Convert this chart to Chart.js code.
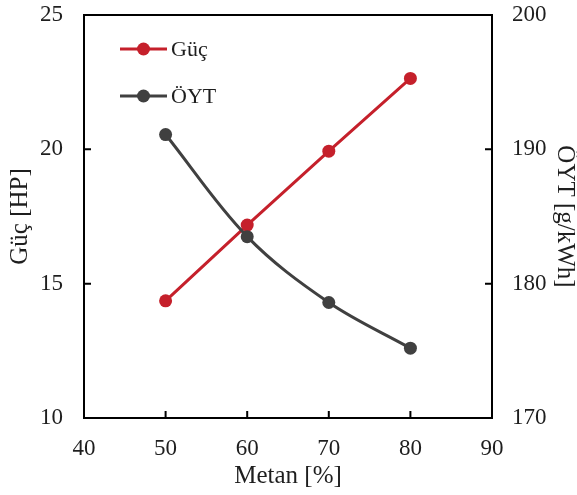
<!DOCTYPE html>
<html>
<head>
<meta charset="utf-8">
<script src="https://cdn.jsdelivr.net/npm/chart.js@4/dist/chart.umd.min.js"></script>
<style>
  html, body { margin: 0; padding: 0; background: #fff; }
  #wrap { width: 577px; height: 495px; position: relative; }
</style>
</head>
<body>
<div id="wrap"><canvas id="c"></canvas></div>
<script>
// Metan oranı [%]
const metan = [50, 60, 70, 80];
// Güç [HP]
const guc = [14.36, 17.18, 19.93, 22.64];
// Özgül yakıt tüketimi ÖYT [g/kWh]
const oyt = [191.1, 183.5, 178.6, 175.2];

const xTicks = [40, 50, 60, 70, 80, 90];
const leftTicks = [10, 15, 20, 25];
const rightTicks = [170, 180, 190, 200];

const RED = '#C5202B';
const GREY = '#404040';
const FONT = "'Liberation Serif', 'Times New Roman', serif";
const TXT = '#1e1e1e';

// Frame, inward tick marks and the in-plot legend
const framePlugin = {
  id: 'frame',
  afterDraw(chart) {
    const { ctx, chartArea: a, scales } = chart;
    ctx.save();
    ctx.strokeStyle = '#000';
    ctx.lineWidth = 2;
    ctx.strokeRect(a.left, a.top, a.right - a.left, a.bottom - a.top);
    const L = 7;
    ctx.beginPath();
    xTicks.forEach(v => {
      const px = scales.x.getPixelForValue(v);
      ctx.moveTo(px, a.bottom); ctx.lineTo(px, a.bottom - L);
    });
    leftTicks.forEach(v => {
      const py = scales.y.getPixelForValue(v);
      ctx.moveTo(a.left, py); ctx.lineTo(a.left + L, py);
    });
    rightTicks.forEach(v => {
      const py = scales.y1.getPixelForValue(v);
      ctx.moveTo(a.right, py); ctx.lineTo(a.right - L, py);
    });
    ctx.stroke();

    // legend
    const items = [
      { label: 'Güç', color: RED, y: 49 },
      { label: 'ÖYT', color: GREY, y: 96 }
    ];
    items.forEach(it => {
      ctx.strokeStyle = it.color;
      ctx.lineWidth = 3;
      ctx.beginPath();
      ctx.moveTo(120, it.y); ctx.lineTo(167, it.y);
      ctx.stroke();
      ctx.fillStyle = it.color;
      ctx.beginPath();
      ctx.arc(143.5, it.y, 6.5, 0, Math.PI * 2);
      ctx.fill();
      ctx.fillStyle = TXT;
      ctx.font = '22px ' + FONT;
      ctx.textAlign = 'left';
      ctx.textBaseline = 'middle';
      ctx.fillText(it.label, 171, it.y + 1);
    });
    ctx.restore();
  }
};

const noPadY = w => s => { s.width = w; s.paddingTop = 0; s.paddingBottom = 0; };

new Chart(document.getElementById('c'), {
  type: 'line',
  data: {
    datasets: [
      {
        label: 'Güç',
        data: metan.map((m, i) => ({ x: m, y: guc[i] })),
        yAxisID: 'y',
        borderColor: RED,
        backgroundColor: RED,
        borderWidth: 3,
        pointRadius: 6.5,
        pointBorderWidth: 0,
        tension: 0,
        order: 1
      },
      {
        label: 'ÖYT',
        data: metan.map((m, i) => ({ x: m, y: oyt[i] })),
        yAxisID: 'y1',
        borderColor: GREY,
        backgroundColor: GREY,
        borderWidth: 3,
        pointRadius: 6.5,
        pointBorderWidth: 0,
        tension: 0.35,
        order: 0
      }
    ]
  },
  options: {
    responsive: true,
    maintainAspectRatio: false,
    animation: false,
    layout: { padding: { top: 15, left: 0, right: 0, bottom: 0 } },
    plugins: { legend: { display: false }, tooltip: { enabled: false } },
    scales: {
      x: {
        type: 'linear',
        min: 40, max: 90,
        afterBuildTicks: s => { s.ticks = xTicks.map(v => ({ value: v })); },
        afterFit: s => { s.height = 77; s.paddingLeft = 0; s.paddingRight = 0; },
        grid: { display: false, drawTicks: false },
        border: { display: false },
        ticks: { padding: 17, color: TXT, font: { family: FONT, size: 23 } },
        title: {
          display: true, text: 'Metan [%]', color: TXT,
          font: { family: FONT, size: 25, lineHeight: 1 },
          padding: { top: 0, bottom: 6 }
        }
      },
      y: {
        position: 'left',
        min: 10, max: 25,
        afterBuildTicks: s => { s.ticks = leftTicks.map(v => ({ value: v })); },
        afterFit: noPadY(84),
        grid: { display: false, drawTicks: false },
        border: { display: false },
        ticks: { padding: 21, color: TXT, font: { family: FONT, size: 23 } },
        title: {
          display: true, text: 'Güç [HP]', color: TXT,
          font: { family: FONT, size: 25, lineHeight: 1 },
          padding: { top: 8, bottom: 0 }
        }
      },
      y1: {
        position: 'right',
        min: 170, max: 200,
        afterBuildTicks: s => { s.ticks = rightTicks.map(v => ({ value: v })); },
        afterFit: noPadY(85),
        grid: { display: false, drawTicks: false },
        border: { display: false },
        ticks: { padding: 20, color: TXT, font: { family: FONT, size: 23 } },
        title: {
          display: true, text: 'ÖYT [g/kWh]', color: TXT,
          font: { family: FONT, size: 25, lineHeight: 1 },
          padding: { top: 0, bottom: 0 }
        }
      }
    }
  },
  plugins: [framePlugin]
});
</script>
</body>
</html>
